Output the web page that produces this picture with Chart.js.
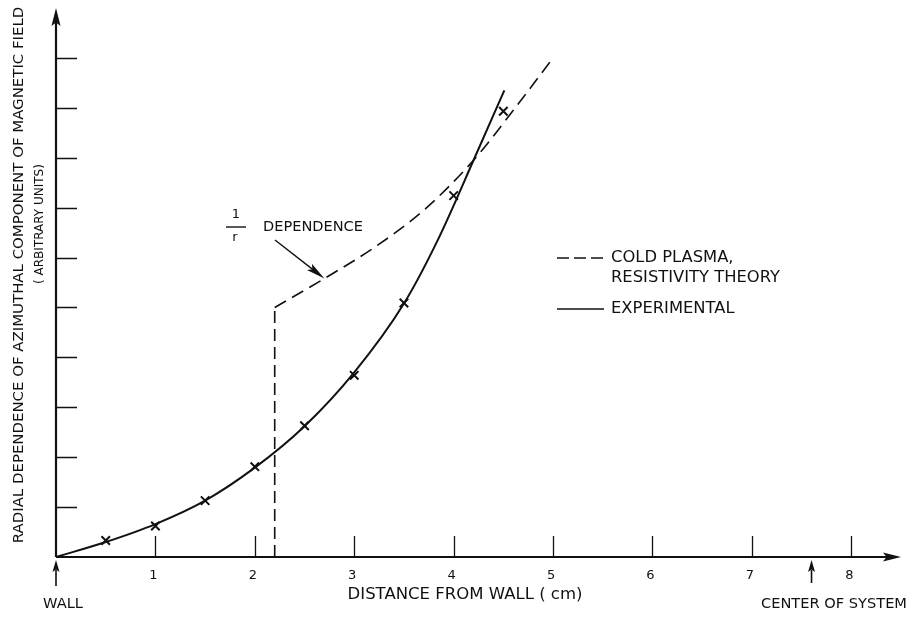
<!DOCTYPE html>
<html>
<head>
<meta charset="utf-8">
<script src="https://cdn.jsdelivr.net/npm/chart.js@4/dist/chart.umd.min.js"></script>
<style>
  html, body { margin: 0; padding: 0; background: #fff; }
  #wrap { width: 909px; height: 617px; position: relative; }
</style>
</head>
<body>
<div id="wrap"><canvas id="c" width="909" height="617"></canvas></div>
<script>
// Distance from wall (cm) tick labels along the horizontal axis
const xTicks = [1, 2, 3, 4, 5, 6, 7, 8];
// Unlabeled divisions on the field axis
const yTicks = [1, 2, 3, 4, 5, 6, 7, 8, 9, 10];

// Measured field values (crosses)
const measuredX = [0.5, 1.0, 1.5, 2.0, 2.5, 3.0, 3.5, 4.0, 4.5];
const measuredY = [0.33, 0.62, 1.13, 1.81, 2.63, 3.64, 5.09, 7.24, 8.93];

// Smooth experimental curve
const experimentalX = [0, 0.5, 1.0, 1.5, 2.0, 2.5, 3.0, 3.5, 3.84, 4.22, 4.51];
const experimentalY = [0, 0.30, 0.66, 1.13, 1.79, 2.62, 3.70, 5.08, 6.35, 8.04, 9.35];

// Cold plasma, resistivity theory: cut-off at r = 2.2 cm, then 1/r dependence
const theoryX = [2.2, 2.2, 2.7, 3.2, 3.7, 4.2, 4.6, 5.0];
const theoryY = [0, 5.0, 5.58, 6.2, 6.95, 7.95, 8.95, 10.0];

// Marked positions on the distance axis
const wallPos = 0;
const centerPos = 7.6;

const FONT = '"DejaVu Sans", sans-serif';
const INK = '#111';

const pts = (xs, ys) => xs.map((x, i) => ({ x: x, y: ys[i] }));

function fitFont(ctx, text, width) {
  ctx.font = '20px ' + FONT;
  const w = ctx.measureText(text).width;
  const size = 20 * width / w;
  ctx.font = size.toFixed(2) + 'px ' + FONT;
  return size;
}

function arrowHead(ctx, tx, ty, angle, len, half) {
  ctx.save();
  ctx.translate(tx, ty);
  ctx.rotate(angle);
  ctx.beginPath();
  ctx.moveTo(0, 0);
  ctx.lineTo(-len, -half);
  ctx.lineTo(-len * 0.8, 0);
  ctx.lineTo(-len, half);
  ctx.closePath();
  ctx.fill();
  ctx.restore();
}

const axesPlugin = {
  id: 'sketchAxes',
  afterDatasetsDraw(chart) {
    const ctx = chart.ctx;
    const xs = chart.scales.x, ys = chart.scales.y;
    const area = chart.chartArea;
    const x0 = xs.getPixelForValue(0), y0 = ys.getPixelForValue(0);
    ctx.save();
    ctx.strokeStyle = INK;
    ctx.fillStyle = INK;
    ctx.lineCap = 'butt';

    // axis lines
    ctx.lineWidth = 2.2;
    ctx.beginPath();
    ctx.moveTo(x0, y0);
    ctx.lineTo(area.right - 8, y0);
    ctx.moveTo(x0, y0);
    ctx.lineTo(x0, area.top + 8);
    ctx.stroke();
    arrowHead(ctx, area.right, y0, 0, 18, 4.5);
    arrowHead(ctx, x0, area.top, -Math.PI / 2, 18, 4.5);

    // inward tick marks
    ctx.lineWidth = 1.3;
    ctx.beginPath();
    xTicks.forEach(v => {
      const px = Math.round(xs.getPixelForValue(v)) + 0.5;
      ctx.moveTo(px, y0);
      ctx.lineTo(px, y0 - 21);
    });
    yTicks.forEach(v => {
      const py = Math.round(ys.getPixelForValue(v)) + 0.5;
      ctx.moveTo(x0, py);
      ctx.lineTo(x0 + 21, py);
    });
    ctx.stroke();

    // tick labels
    ctx.font = '13px ' + FONT;
    ctx.textAlign = 'center';
    ctx.textBaseline = 'middle';
    xTicks.forEach(v => {
      ctx.fillText(String(v), xs.getPixelForValue(v) - 2, 576);
    });

    // axis titles
    fitFont(ctx, 'DISTANCE FROM WALL ( cm)', 235);
    ctx.fillText('DISTANCE FROM WALL ( cm)', 465, 595);

    ctx.save();
    ctx.translate(19, 275);
    ctx.rotate(-Math.PI / 2);
    fitFont(ctx, 'RADIAL DEPENDENCE OF AZIMUTHAL COMPONENT OF MAGNETIC FIELD', 537);
    ctx.fillText('RADIAL DEPENDENCE OF AZIMUTHAL COMPONENT OF MAGNETIC FIELD', 0, 0);
    ctx.restore();
    ctx.save();
    ctx.translate(40, 224);
    ctx.rotate(-Math.PI / 2);
    ctx.font = '12px ' + FONT;
    ctx.fillText('( ARBITRARY UNITS)', 0, 0);
    ctx.restore();

    // wall and centre-of-system markers
    const wx = xs.getPixelForValue(wallPos);
    const cx = xs.getPixelForValue(centerPos);
    ctx.lineWidth = 1.6;
    ctx.beginPath();
    ctx.moveTo(wx, 586); ctx.lineTo(wx, 570);
    ctx.moveTo(cx, 583); ctx.lineTo(cx, 570);
    ctx.stroke();
    arrowHead(ctx, wx, 560, -Math.PI / 2, 12, 3.5);
    arrowHead(ctx, cx, 560, -Math.PI / 2, 12, 3.5);
    fitFont(ctx, 'WALL', 40);
    ctx.fillText('WALL', 63, 604);
    fitFont(ctx, 'CENTER OF SYSTEM', 146);
    ctx.fillText('CENTER OF SYSTEM', 834, 604);

    // legend
    ctx.textAlign = 'left';
    ctx.lineWidth = 1.6;
    ctx.setLineDash([12, 5]);
    ctx.beginPath();
    ctx.moveTo(557, 258); ctx.lineTo(604, 258);
    ctx.stroke();
    ctx.setLineDash([]);
    ctx.beginPath();
    ctx.moveTo(557, 309); ctx.lineTo(604, 309);
    ctx.stroke();
    fitFont(ctx, 'RESISTIVITY THEORY', 169);
    ctx.fillText('COLD PLASMA,', 611, 258);
    ctx.fillText('RESISTIVITY THEORY', 611, 278);
    ctx.fillText('EXPERIMENTAL', 611, 309);

    // 1/r dependence annotation
    fitFont(ctx, 'DEPENDENCE', 100);
    ctx.fillText('DEPENDENCE', 263, 227);
    ctx.textAlign = 'center';
    ctx.font = '13px ' + FONT;
    ctx.fillText('1', 236, 215);
    ctx.fillText('r', 235, 238);
    ctx.lineWidth = 1.4;
    ctx.beginPath();
    ctx.moveTo(226, 227); ctx.lineTo(246, 227);
    ctx.stroke();
    const tip = { x: xs.getPixelForValue(2.7), y: ys.getPixelForValue(5.58) };
    const tail = { x: 275, y: 240 };
    const ang = Math.atan2(tip.y - tail.y, tip.x - tail.x);
    ctx.beginPath();
    ctx.moveTo(tail.x, tail.y);
    ctx.lineTo(tip.x - 10 * Math.cos(ang), tip.y - 10 * Math.sin(ang));
    ctx.stroke();
    arrowHead(ctx, tip.x, tip.y, ang, 19, 4);

    ctx.restore();
  }
};

const theoryWall = pts(theoryX.slice(0, 2), theoryY.slice(0, 2));
const theoryCurve = pts(theoryX.slice(1), theoryY.slice(1));

new Chart(document.getElementById('c'), {
  type: 'scatter',
  data: {
    datasets: [
      {
        label: 'COLD PLASMA, RESISTIVITY THEORY',
        data: theoryWall,
        showLine: true,
        borderColor: INK,
        borderWidth: 1.6,
        borderDash: [12, 6],
        pointRadius: 0,
        tension: 0
      },
      {
        label: 'COLD PLASMA, RESISTIVITY THEORY (1/r)',
        data: theoryCurve,
        showLine: true,
        borderColor: INK,
        borderWidth: 1.6,
        borderDash: [13, 7],
        pointRadius: 0,
        cubicInterpolationMode: 'monotone'
      },
      {
        label: 'EXPERIMENTAL',
        data: pts(experimentalX, experimentalY),
        showLine: true,
        borderColor: INK,
        borderWidth: 2,
        pointRadius: 0,
        cubicInterpolationMode: 'monotone'
      },
      {
        label: 'Measured',
        data: pts(measuredX, measuredY),
        showLine: false,
        pointStyle: 'crossRot',
        pointRadius: 6,
        borderColor: INK,
        borderWidth: 2
      }
    ]
  },
  options: {
    responsive: false,
    animation: false,
    events: [],
    layout: { padding: { left: 56, right: 8, top: 7, bottom: 60 } },
    plugins: { legend: { display: false }, tooltip: { enabled: false } },
    scales: {
      x: { type: 'linear', min: 0, max: 8.5, display: false },
      y: { type: 'linear', min: 0, max: 11, display: false }
    }
  },
  plugins: [axesPlugin]
});
</script>
</body>
</html>
